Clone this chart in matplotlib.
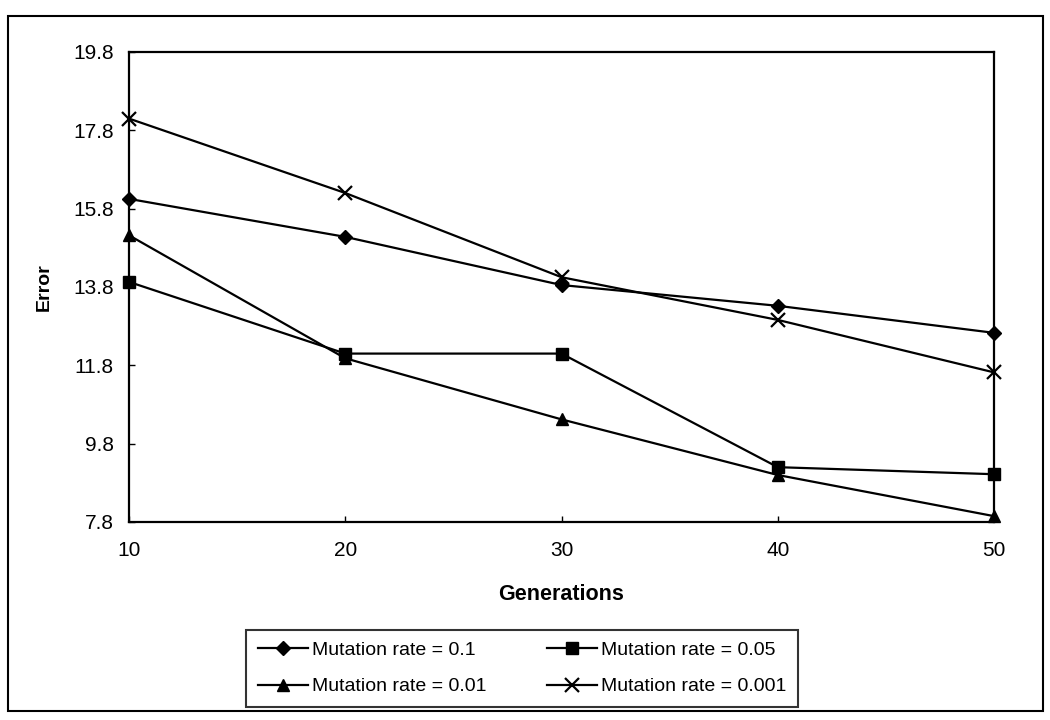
import numpy as np
import matplotlib.pyplot as plt
from matplotlib.patches import Rectangle

plt.rcParams['font.family'] = ['Liberation Sans', 'DejaVu Sans']

# データ
generations = [10, 20, 30, 40, 50]
rate_01 = [16.05, 15.08, 13.85, 13.32, 12.63]
rate_005 = [13.93, 12.10, 12.10, 9.20, 9.02]
rate_001 = [15.12, 11.98, 10.42, 9.00, 7.95]
rate_0001 = [18.10, 16.20, 14.05, 12.96, 11.62]
labels = ['Mutation rate = 0.1', 'Mutation rate = 0.05',
          'Mutation rate = 0.01', 'Mutation rate = 0.001']
yticks = [7.8, 9.8, 11.8, 13.8, 15.8, 17.8, 19.8]

fig = plt.figure(figsize=(10.5, 7.2), dpi=100)
ax = fig.add_axes([129 / 1050, 1 - 522 / 720, 865 / 1050, 470 / 720])

# 外枠
fig.patches.append(Rectangle((8 / 1050, 1 - 711 / 720), 1035 / 1050, 695 / 720,
                             transform=fig.transFigure, fill=False,
                             edgecolor='black', linewidth=1.5))

kw = dict(color='black', linewidth=1.6, clip_on=False)
l1, = ax.plot(generations, rate_01, marker='D', markersize=7, label=labels[0], **kw)
l2, = ax.plot(generations, rate_005, marker='s', markersize=9, label=labels[1], **kw)
l3, = ax.plot(generations, rate_001, marker='^', markersize=9, label=labels[2], **kw)
l4, = ax.plot(generations, rate_0001, marker='x', markersize=10, markeredgewidth=1.6,
              label=labels[3], **kw)

ax.set_xlim(10, 50)
ax.set_ylim(7.8, 19.8)
ax.set_xticks(generations)
ax.set_yticks(yticks)
ax.set_yticklabels([f'{v:.1f}' for v in yticks])
ax.tick_params(direction='in', length=4, width=1, labelsize=15)
ax.tick_params(axis='x', pad=14)
ax.tick_params(axis='y', pad=11)
for s in ax.spines.values():
    s.set_linewidth(1.6)

ax.set_xlabel('Generations', fontsize=15.5, fontweight='bold', labelpad=17)
ax.set_ylabel('Error', fontsize=14, fontweight='bold', labelpad=15)

# 凡例（2列）
leg = fig.legend([l1, l3, l2, l4], [labels[0], labels[2], labels[1], labels[3]],
                 ncol=2, loc='lower left', mode='expand',
                 bbox_to_anchor=(246 / 1050, 1 - 707 / 720, 552 / 1050, 0.1),
                 fontsize=14, frameon=True, fancybox=False, edgecolor='black',
                 handlelength=2.6, handletextpad=0.2, columnspacing=0.6,
                 borderpad=0.6, labelspacing=0.95, borderaxespad=0)
leg.get_frame().set_linewidth(1.5)

plt.savefig('out.png', dpi=100)
